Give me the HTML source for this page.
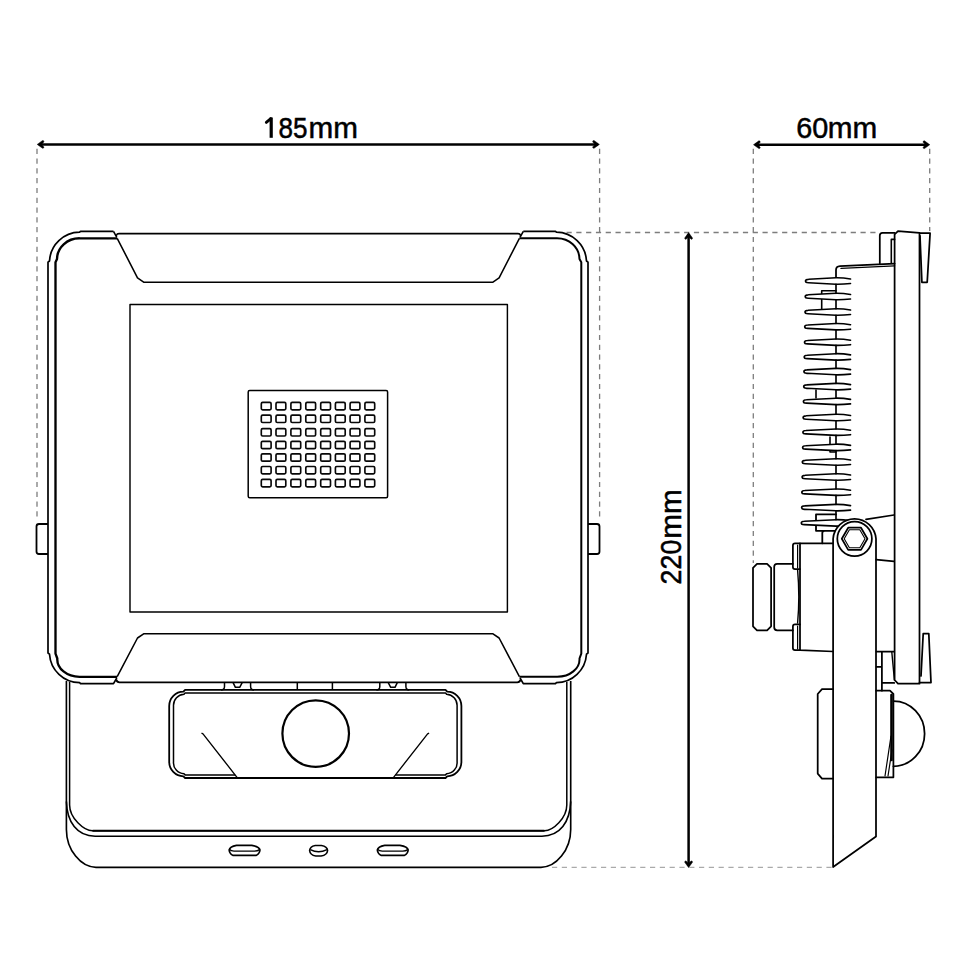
<!DOCTYPE html>
<html><head><meta charset="utf-8">
<style>
html,body{margin:0;padding:0;background:#fff;width:970px;height:971px;overflow:hidden}
svg{display:block}
</style></head>
<body>
<svg width="970" height="971" viewBox="0 0 970 971">
<rect width="970" height="971" fill="#fff"/>
<g stroke="#7d7d7d" stroke-width="1.3" stroke-dasharray="5.2 4.6" fill="none">
  <path d="M37 148.7V520"/>
  <path d="M599.6 148.7V520"/>
  <path d="M566.5 232.5H878"/>
  <path d="M753.3 148.7V563"/>
  <path d="M929.7 148.7V231"/>
  <path stroke="#aaaaaa" d="M552 867.4H833"/>
</g>
<g stroke="#000" stroke-width="2.5" fill="none">
<path d="M39 144.4H598"/><path d="M755 144.7H928"/><path d="M688.6 234V866"/></g>
<path fill="#000" stroke="#000" stroke-width="0.5" d="M37.20 144.40L42.60 148.30Q44.10 148.30 43.90 146.90L41.40 144.40L43.90 141.90Q44.10 140.50 42.60 140.50Z"/>
<path fill="#000" stroke="#000" stroke-width="0.5" d="M599.40 144.40L594.00 140.50Q592.50 140.50 592.70 141.90L595.20 144.40L592.70 146.90Q592.50 148.30 594.00 148.30Z"/>
<path fill="#000" stroke="#000" stroke-width="0.5" d="M753.50 144.70L758.90 148.60Q760.40 148.60 760.20 147.20L757.70 144.70L760.20 142.20Q760.40 140.80 758.90 140.80Z"/>
<path fill="#000" stroke="#000" stroke-width="0.5" d="M929.80 144.70L924.40 140.80Q922.90 140.80 923.10 142.20L925.60 144.70L923.10 147.20Q922.90 148.60 924.40 148.60Z"/>
<path fill="#000" stroke="#000" stroke-width="0.5" d="M688.60 232.60L684.70 238.00Q684.70 239.50 686.10 239.30L688.60 236.80L691.10 239.30Q692.50 239.50 692.50 238.00Z"/>
<path fill="#000" stroke="#000" stroke-width="0.5" d="M688.60 867.60L692.50 862.20Q692.50 860.70 691.10 860.90L688.60 863.40L686.10 860.90Q684.70 860.70 684.70 862.20Z"/>
<text transform="translate(278.40 138.00) scale(0.905 1)" font-family="Liberation Sans" font-size="28.8" fill="#000" stroke="#000" stroke-width="0.5">85</text>
<path fill="#000" d="M269.6 117.5H272.8V137.8H269.6Z"/><path stroke="#000" stroke-width="2.8" stroke-linecap="round" fill="none" d="M270.8 118.6L266.3 122.4"/>
<text transform="translate(308.60 138.00) scale(1.030 1)" font-family="Liberation Sans" font-size="28.8" fill="#000" stroke="#000" stroke-width="0.5">mm</text>
<text transform="translate(796.30 138.00) scale(1.000 1)" font-family="Liberation Sans" font-size="28.8" fill="#000" stroke="#000" stroke-width="0.5">60</text>
<text transform="translate(827.80 138.00) scale(1.030 1)" font-family="Liberation Sans" font-size="28.8" fill="#000" stroke="#000" stroke-width="0.5">mm</text>
<text transform="translate(681.4 584.4) rotate(-90) scale(0.93 1)" font-family="Liberation Sans" font-size="28.8" fill="#000" stroke="#000" stroke-width="0.5">220</text>
<text transform="translate(681.4 538.7) rotate(-90) scale(1.03 1)" font-family="Liberation Sans" font-size="28.8" fill="#000" stroke="#000" stroke-width="0.5">mm</text>
<g stroke="#000" fill="none" stroke-linejoin="round">
<path stroke-width="1.7" d="M113.5 231.3H80.5L79.6 232.2A30.5 30.5 0 0 0 49.5 261L48 262.2V653L49.5 654.2A30.5 30.5 0 0 0 79.6 682.7L80.5 683.6H113.5L116.8 678"/>
<path stroke-width="1.7" d="M523.3 231.3H555.5L556.4 232.2A30.5 30.5 0 0 1 586.5 261L588 262.2V653L586.5 654.2A30.5 30.5 0 0 1 556.4 682.7L555.5 683.6H523.3L520 678"/>
<path stroke-width="1.6" d="M113.5 231.3L116.8 237.3M523.3 231.3L520 237.3M116.3 235.5Q117 233.6 119 233.6H518Q520 233.6 520.5 235.5"/>
<path stroke-width="2.35" d="M117.2 238.3H79.6A22.5 21 0 0 0 57 259.1L55.5 262.2V653.6L57.3 658.5A22.3 17.5 0 0 0 79.7 676.8H117.2"/>
<path stroke-width="2.0" d="M519.4 238.3H556.9A22.5 21 0 0 1 579.5 259.1L581.3 262.2V653.6L579.5 658.5A22.3 17.5 0 0 1 557.2 676.8H519.4"/>
<path stroke-width="1.55" d="M117.2 238.3L137.5 277.9L144 282.3H492.6L499.1 277.9L519.4 238.3"/>
<path stroke-width="1.55" d="M519.4 676.6L499.1 638L492.6 633.7H144L137.5 638L117.2 676.6"/>
<path stroke-width="1.8" d="M48 524H39Q36.5 524 36.5 526.5V551.5Q36.5 554 39 554H48"/>
<path stroke-width="1.8" d="M588 524H597Q599.5 524 599.5 526.5V551.5Q599.5 554 597 554H588"/>
<rect x="130" y="304.4" width="377.4" height="307.6" stroke-width="1.45"/>
<rect x="248.2" y="390.6" width="139.4" height="107.2" rx="1.5" stroke-width="1.5"/>
</g>
<g stroke="#080808" fill="none" stroke-width="1.65"><rect x="261.30" y="402.40" width="9.8" height="7.4" rx="1.3"/><rect x="276.00" y="402.40" width="9.8" height="7.4" rx="1.3"/><rect x="290.90" y="402.40" width="9.8" height="7.4" rx="1.3"/><rect x="305.80" y="402.40" width="9.8" height="7.4" rx="1.3"/><rect x="320.70" y="402.40" width="9.8" height="7.4" rx="1.3"/><rect x="335.40" y="402.40" width="9.8" height="7.4" rx="1.3"/><rect x="350.10" y="402.40" width="9.8" height="7.4" rx="1.3"/><rect x="364.90" y="402.40" width="9.8" height="7.4" rx="1.3"/><rect x="261.30" y="415.10" width="9.8" height="7.4" rx="1.3"/><rect x="276.00" y="415.10" width="9.8" height="7.4" rx="1.3"/><rect x="290.90" y="415.10" width="9.8" height="7.4" rx="1.3"/><rect x="305.80" y="415.10" width="9.8" height="7.4" rx="1.3"/><rect x="320.70" y="415.10" width="9.8" height="7.4" rx="1.3"/><rect x="335.40" y="415.10" width="9.8" height="7.4" rx="1.3"/><rect x="350.10" y="415.10" width="9.8" height="7.4" rx="1.3"/><rect x="364.90" y="415.10" width="9.8" height="7.4" rx="1.3"/><rect x="261.30" y="428.60" width="9.8" height="7.4" rx="1.3"/><rect x="276.00" y="428.60" width="9.8" height="7.4" rx="1.3"/><rect x="290.90" y="428.60" width="9.8" height="7.4" rx="1.3"/><rect x="305.80" y="428.60" width="9.8" height="7.4" rx="1.3"/><rect x="320.70" y="428.60" width="9.8" height="7.4" rx="1.3"/><rect x="335.40" y="428.60" width="9.8" height="7.4" rx="1.3"/><rect x="350.10" y="428.60" width="9.8" height="7.4" rx="1.3"/><rect x="364.90" y="428.60" width="9.8" height="7.4" rx="1.3"/><rect x="261.30" y="441.30" width="9.8" height="7.4" rx="1.3"/><rect x="276.00" y="441.30" width="9.8" height="7.4" rx="1.3"/><rect x="290.90" y="441.30" width="9.8" height="7.4" rx="1.3"/><rect x="305.80" y="441.30" width="9.8" height="7.4" rx="1.3"/><rect x="320.70" y="441.30" width="9.8" height="7.4" rx="1.3"/><rect x="335.40" y="441.30" width="9.8" height="7.4" rx="1.3"/><rect x="350.10" y="441.30" width="9.8" height="7.4" rx="1.3"/><rect x="364.90" y="441.30" width="9.8" height="7.4" rx="1.3"/><rect x="261.30" y="453.80" width="9.8" height="7.4" rx="1.3"/><rect x="276.00" y="453.80" width="9.8" height="7.4" rx="1.3"/><rect x="290.90" y="453.80" width="9.8" height="7.4" rx="1.3"/><rect x="305.80" y="453.80" width="9.8" height="7.4" rx="1.3"/><rect x="320.70" y="453.80" width="9.8" height="7.4" rx="1.3"/><rect x="335.40" y="453.80" width="9.8" height="7.4" rx="1.3"/><rect x="350.10" y="453.80" width="9.8" height="7.4" rx="1.3"/><rect x="364.90" y="453.80" width="9.8" height="7.4" rx="1.3"/><rect x="261.30" y="466.50" width="9.8" height="7.4" rx="1.3"/><rect x="276.00" y="466.50" width="9.8" height="7.4" rx="1.3"/><rect x="290.90" y="466.50" width="9.8" height="7.4" rx="1.3"/><rect x="305.80" y="466.50" width="9.8" height="7.4" rx="1.3"/><rect x="320.70" y="466.50" width="9.8" height="7.4" rx="1.3"/><rect x="335.40" y="466.50" width="9.8" height="7.4" rx="1.3"/><rect x="350.10" y="466.50" width="9.8" height="7.4" rx="1.3"/><rect x="364.90" y="466.50" width="9.8" height="7.4" rx="1.3"/><rect x="261.30" y="479.40" width="9.8" height="7.4" rx="1.3"/><rect x="276.00" y="479.40" width="9.8" height="7.4" rx="1.3"/><rect x="290.90" y="479.40" width="9.8" height="7.4" rx="1.3"/><rect x="305.80" y="479.40" width="9.8" height="7.4" rx="1.3"/><rect x="320.70" y="479.40" width="9.8" height="7.4" rx="1.3"/><rect x="335.40" y="479.40" width="9.8" height="7.4" rx="1.3"/><rect x="350.10" y="479.40" width="9.8" height="7.4" rx="1.3"/><rect x="364.90" y="479.40" width="9.8" height="7.4" rx="1.3"/></g>
<g stroke="#000" fill="none" stroke-linejoin="round">
<path stroke-width="1.65" d="M66.4 681V829.4C66.4 850 81 867.3 96 867.3H541C556 867.3 570.7 850 570.7 829.4V681"/>
<path stroke-width="1.5" d="M69.6 681.7V804.9C69.6 818 84 830.7 92.5 830.7H544.5C553 830.7 566.8 818 566.8 804.9V681.7"/>
<path stroke-width="1.6" d="M66.4 801.4C67 822 77 836.2 95.1 836.2H541.9C560 836.2 570 822 570.7 801.4"/>
<path stroke-width="2.1" d="M92.5 830.7H544.5"/>
<path stroke-width="1.85" d="M116.3 679.8Q117 682.3 119.5 682.3H517.3Q519.8 682.3 520.5 679.8"/>
<path stroke-width="1.8" d="M185.1 689.8H445.5L447.2 691.6A14.2 14.4 0 0 1 461.4 706V761.5A14.2 14.6 0 0 1 447.2 776.3L445.5 778H185.1L183.4 776.3A14.2 14.6 0 0 1 169.2 761.5V706A14.2 14.4 0 0 1 183.4 691.6Z"/>
<path stroke-width="1.5" d="M235.2 774.9H185.1L184 773.8A11 11 0 0 1 173.5 762V705.5A11 11 0 0 1 184 694.3L185.1 692.9H445.5L446.6 694.3A11 11 0 0 1 457.1 705.5V762A11 11 0 0 1 446.6 773.8L445.5 774.9H395.4"/>
<path stroke-width="1.5" d="M224.5 682.4V686.5Q224.5 690 221 690M250.6 682.4V686.5Q250.6 690 254 690M233 682.4L235.4 687.3H239.7L242.3 682.4M297.3 682.4V690M332.4 682.4V690M379.8 682.4V686.5Q379.8 690 376.4 690M405.9 682.4V686.5Q405.9 690 409.3 690M388.1 682.4L390.7 687.3H395L397.4 682.4"/>
<circle cx="315.7" cy="733.6" r="33.3" stroke-width="2.2"/>
<path stroke-width="1.35" d="M201.5 733.2L203 733.9L237.4 777.8M429.1 733.2L427.6 733.9L393.2 777.8"/>
<g transform="translate(0.0 0)"><path stroke-width="1.6" d="M229.1 850Q229.8 846.6 236.5 845.4H251.8Q259.4 846.6 260 850Q259.6 853.6 256.3 855.4H232.8Q229.5 853.6 229.1 850Z"/><path stroke-width="1.4" d="M229.6 849.6Q231 851.1 234 851.1H254.5Q257.5 851.1 259.5 849.6"/></g>
<g transform="translate(148.2 0)"><path stroke-width="1.6" d="M229.1 850Q229.8 846.6 236.5 845.4H251.8Q259.4 846.6 260 850Q259.6 853.6 256.3 855.4H232.8Q229.5 853.6 229.1 850Z"/><path stroke-width="1.4" d="M229.6 849.6Q231 851.1 234 851.1H254.5Q257.5 851.1 259.5 849.6"/></g>
<path stroke-width="1.6" d="M309.6 850.5Q310 846.5 315.2 845.5H321.4Q327.2 846.5 327.6 850.5Q327.2 855 321.1 856H315.8Q310 855 309.6 850.5Z"/>
<path stroke-width="1.4" d="M310.3 849.6Q318.5 854 327 849.6"/>
</g>
<g stroke="#000" fill="none" stroke-linejoin="round" stroke-linecap="round">
<path stroke-width="1.75" d="M894.6 234.4L898 231.1L919.5 232.8V683.7H898L894.6 680Z"/>
<path stroke-width="1.75" d="M894.6 232.8H882.5Q879.8 232.8 879.8 235.5V263.3"/>
<path stroke-width="1.6" d="M891.3 263.3V239.4H894.6"/>
<path stroke-width="1.75" d="M920 233.2H930.1L927.2 282.3H921.9L920 236"/>
<path stroke-width="1.75" d="M894.6 263.6L840 266.2Q836 266.5 836 270V278"/>
<path stroke-width="1.4" d="M894.6 265.9L841 268.4"/>
<path stroke-width="1.6" d="M821.7 309V290.8H836M816 390V398M830 437V452H836"/>
<path stroke-width="1.8" d="M836 514.4H816V530.8H836M822.3 543.3V533Q822.3 530.8 825 530.8"/>
<path stroke-width="1.65" fill="#fff" d="M850.5 279.0Q843 277.7 836 277.8L808.5 279.3Q805.5 279.3 805.5 281.0Q805.5 282.7 808.5 282.7L836 284.2Q843 284.3 850.5 283.5M850.5 294.5Q843 293.2 836 293.3L808.2 294.8Q805.2 294.8 805.2 296.5Q805.2 298.2 808.2 298.2L836 299.7Q843 299.8 850.5 299.0M850.5 310.0Q843 308.7 836 308.8L808.0 310.3Q805.0 310.3 805.0 312.0Q805.0 313.7 808.0 313.7L836 315.2Q843 315.3 850.5 314.5M850.5 324.7Q843 323.4 836 323.5L807.7 325.0Q804.7 325.0 804.7 326.7Q804.7 328.4 807.7 328.4L836 329.9Q843 330.0 850.5 329.2M850.5 340.2Q843 338.9 836 339.0L807.5 340.5Q804.5 340.5 804.5 342.2Q804.5 343.9 807.5 343.9L836 345.4Q843 345.5 850.5 344.7M850.5 354.9Q843 353.6 836 353.7L807.2 355.2Q804.2 355.2 804.2 356.9Q804.2 358.6 807.2 358.6L836 360.1Q843 360.2 850.5 359.4M850.5 369.6Q843 368.3 836 368.4L806.9 369.9Q803.9 369.9 803.9 371.6Q803.9 373.3 806.9 373.3L836 374.8Q843 374.9 850.5 374.1M850.5 384.6Q843 383.3 836 383.4L806.7 384.9Q803.7 384.9 803.7 386.6Q803.7 388.3 806.7 388.3L836 389.8Q843 389.9 850.5 389.1M850.5 399.4Q843 398.1 836 398.2L806.4 399.7Q803.4 399.7 803.4 401.4Q803.4 403.1 806.4 403.1L836 404.6Q843 404.7 850.5 403.9M850.5 415.5Q843 414.2 836 414.3L806.1 415.8Q803.1 415.8 803.1 417.5Q803.1 419.2 806.1 419.2L836 420.7Q843 420.8 850.5 420.0M850.5 430.2Q843 428.9 836 429.0L805.9 430.5Q802.9 430.5 802.9 432.2Q802.9 433.9 805.9 433.9L836 435.4Q843 435.5 850.5 434.7M850.5 445.4Q843 444.1 836 444.2L805.6 445.7Q802.6 445.7 802.6 447.4Q802.6 449.1 805.6 449.1L836 450.6Q843 450.7 850.5 449.9M850.5 460.0Q843 458.7 836 458.8L805.3 460.3Q802.3 460.3 802.3 462.0Q802.3 463.7 805.3 463.7L836 465.2Q843 465.3 850.5 464.5M850.5 475.0Q843 473.7 836 473.8L805.1 475.3Q802.1 475.3 802.1 477.0Q802.1 478.7 805.1 478.7L836 480.2Q843 480.3 850.5 479.5M850.5 490.2Q843 488.9 836 489.0L804.8 490.5Q801.8 490.5 801.8 492.2Q801.8 493.9 804.8 493.9L836 495.4Q843 495.5 850.5 494.7M850.5 505.6Q843 504.3 836 504.4L804.6 505.9Q801.6 505.9 801.6 507.6Q801.6 509.3 804.6 509.3L836 510.8Q843 510.9 850.5 510.1M850.5 520.9Q843 519.6 836 519.7L804.3 521.2Q801.3 521.2 801.3 522.9Q801.3 524.6 804.3 524.6L836 526.1Q843 526.2 850.5 525.4"/>
<path stroke-width="1.65" d="M836 284.2V293.3M836 299.7V308.8M836 315.2V323.5M836 329.9V339.0M836 345.4V353.7M836 360.1V368.4M836 374.8V383.4M836 389.8V398.2M836 404.6V414.3M836 420.7V429.0M836 435.4V444.2M836 450.6V458.8M836 465.2V473.8M836 480.2V489.0M836 495.4V504.4M836 510.8V519.7"/>
<path stroke-width="1.75" d="M757 563.8H767.1L771.1 567.8V626.3L767.1 630.3H757L753 626.3V567.8Z"/>
<path stroke-width="1.75" d="M792.9 563.8H777.2Q774.2 563.8 774.2 566.8V627.3Q774.2 630.3 777.2 630.3H792.9"/>
<path stroke-width="1.4" d="M797.6 570Q800 597 797.6 623"/>
<path stroke-width="1.75" d="M800 543.3H795Q792.9 543.3 792.9 545.4V567Q792.9 569.1 795 569.1H800M800 624.4H795Q792.9 624.4 792.9 626.5V648Q792.9 650.1 795 650.1H800"/>
<path stroke-width="1.2" d="M797.6 545V568M797.6 626V649"/>
<path stroke-width="1.75" d="M800 543.3V650.1L833.1 651.5M800 543.3H833.1"/>
<path stroke-width="1.75" fill="#fff" d="M833.1 867V538.8A21.5 21.5 0 0 1 876 538.8V836.5Z"/>
<circle cx="854.6" cy="538.8" r="17.3" stroke-width="1.75"/>
<path stroke-width="1.75" d="M841.8 538.8L848.2 527.7H861L867.4 538.8L861 549.9H848.2Z"/>
<path stroke-width="1.1" d="M844.2 538.8L849.4 529.8H859.8L865 538.8L859.8 547.8H849.4Z"/>
<path stroke-width="1.7" d="M866 519.3L894 515M876.2 559.7L894 561.4"/>
<path stroke-width="1.75" d="M876.5 651.5H894.2M881.9 651.5V682.9H894.2M876.5 666.8H881.9V651.5M881.9 682.9V690.7"/>
<path stroke-width="1.4" d="M891.8 652L894.4 680"/>
<path stroke-width="1.75" d="M919.5 682.6H931L928.8 633.7H923.2L921 676"/>
<path stroke-width="1.75" d="M833.1 689.2H822L817.7 694V773.6L822 778.6H833.1"/>
<path stroke-width="1.75" d="M876.2 690.7H890L893.4 694V777.3H876.2"/>
<path stroke-width="2.6" d="M891.5 695V760"/>
<path stroke-width="1.2" d="M885 776L891 736M888 776L892 750"/>
<path stroke-width="1.75" d="M893.4 701A31.2 32.6 0 0 1 893.4 766.3"/>
</g>
</svg>
</body></html>
